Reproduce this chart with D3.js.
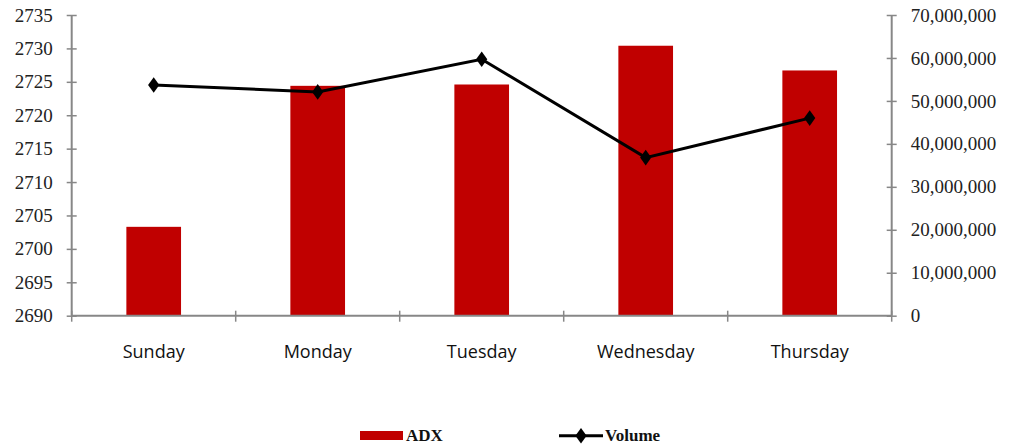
<!DOCTYPE html>
<html>
<head>
<meta charset="utf-8">
<script src="https://cdn.jsdelivr.net/npm/d3@7"></script>
<style>
  html, body { margin: 0; padding: 0; background: #fff; }
  svg { display: block; }
</style>
</head>
<body>
<svg id="chart" width="1021" height="446"></svg>
<script>
// Daily index level (bars, left axis) and traded volume (line, right axis)
const days = ["Sunday", "Monday", "Tuesday", "Wednesday", "Thursday"];
const adx = [2703.3, 2724.4, 2724.6, 2730.4, 2726.7];
const volume = [53700000, 52100000, 59700000, 36800000, 46000000];
const leftTicks = [2690, 2695, 2700, 2705, 2710, 2715, 2720, 2725, 2730, 2735];
const rightTicks = [0, 10000000, 20000000, 30000000, 40000000, 50000000, 60000000, 70000000];

const svg = d3.select("#chart");
const plotLeft = 71.7, plotRight = 891.7, plotTop = 15, plotBottom = 315.7;
const axisColor = "#878787";
const serif = "'Liberation Serif', 'DejaVu Serif', serif";

const x = d3.scaleBand().domain(days).range([plotLeft, plotRight]).padding(0);
const yL = d3.scaleLinear().domain([2690, 2735]).range([plotBottom, plotTop]);
const yR = d3.scaleLinear().domain([0, 70000000]).range([plotBottom, plotTop]);
const barW = x.bandwidth() / 3;

// Bars
svg.append("g").selectAll("rect")
  .data(days)
  .join("rect")
  .attr("x", (d) => x(d) + (x.bandwidth() - barW) / 2)
  .attr("y", (d, i) => yL(adx[i]))
  .attr("width", barW)
  .attr("height", (d, i) => plotBottom - yL(adx[i]))
  .attr("fill", "#C00000");

// Left axis
const gL = svg.append("g").attr("transform", `translate(${plotLeft},0)`)
  .call(d3.axisLeft(yL).tickValues(leftTicks).tickSize(5).tickPadding(14).tickFormat(d3.format("d")));
gL.selectAll(".tick line").attr("x2", 5).attr("x1", -5);

// Right axis
const gR = svg.append("g").attr("transform", `translate(${plotRight},0)`)
  .call(d3.axisRight(yR).tickValues(rightTicks).tickSize(5).tickPadding(14).tickFormat(d3.format(",")));
gR.selectAll(".tick line").attr("x1", -5).attr("x2", 5);

// Bottom axis with boundary ticks between categories
const gB = svg.append("g").attr("transform", `translate(0,${plotBottom})`);
gB.append("line").attr("x1", plotLeft).attr("x2", plotRight).attr("stroke", axisColor).attr("stroke-width", 2);
const bounds = days.map((d) => x(d)).concat([x(days[days.length - 1]) + x.step()]);
gB.selectAll("line.b").data(bounds).join("line").attr("class", "b")
  .attr("x1", (d) => d).attr("x2", (d) => d).attr("y1", -5).attr("y2", 6)
  .attr("stroke", axisColor).attr("stroke-width", 1.5);
gB.selectAll("text").data(days).join("text")
  .attr("x", (d) => x(d) + x.bandwidth() / 2)
  .attr("y", 42)
  .attr("text-anchor", "middle")
  .attr("font-family", "'Open Sans', 'Noto Sans', sans-serif")
  .attr("font-size", 18)
  .attr("fill", "#111")
  .text((d) => d);

[gL, gR].forEach((g) => {
  g.select(".domain").attr("stroke", axisColor).attr("stroke-width", 2);
  g.selectAll(".tick line").attr("stroke", axisColor).attr("stroke-width", 1.5);
  g.selectAll(".tick text").attr("font-family", serif).attr("font-size", 19).attr("fill", "#222");
});
gL.select(".domain").attr("d", `M0,${plotTop}V${plotBottom}`);
gR.select(".domain").attr("d", `M0,${plotTop}V${plotBottom}`);

// Volume line with diamond markers
const line = d3.line().x((d, i) => x(days[i]) + x.bandwidth() / 2).y((d) => yR(d));
svg.append("path").datum(volume).attr("d", line)
  .attr("fill", "none").attr("stroke", "#000").attr("stroke-width", 3);
const diamond = d3.symbol().type(d3.symbolDiamond).size(70);
svg.append("g").selectAll("path").data(volume).join("path")
  .attr("d", diamond)
  .attr("transform", (d, i) => `translate(${x(days[i]) + x.bandwidth() / 2},${yR(d)}) scale(1.25,1)`)
  .attr("fill", "#000");

// Legend
const lg = svg.append("g").attr("font-family", serif).attr("font-weight", "bold").attr("font-size", 17);
lg.append("rect").attr("x", 360).attr("y", 431).attr("width", 43).attr("height", 9).attr("fill", "#C00000");
lg.append("text").attr("x", 406).attr("y", 441).text("ADX").attr("fill", "#111");
lg.append("line").attr("x1", 559).attr("x2", 603).attr("y1", 435.7).attr("y2", 435.7)
  .attr("stroke", "#000").attr("stroke-width", 3);
lg.append("path").attr("d", diamond).attr("transform", "translate(581,435.7) scale(1.25,1)").attr("fill", "#000");
lg.append("text").attr("x", 605).attr("y", 441).text("Volume").attr("fill", "#111");
</script>
</body>
</html>
